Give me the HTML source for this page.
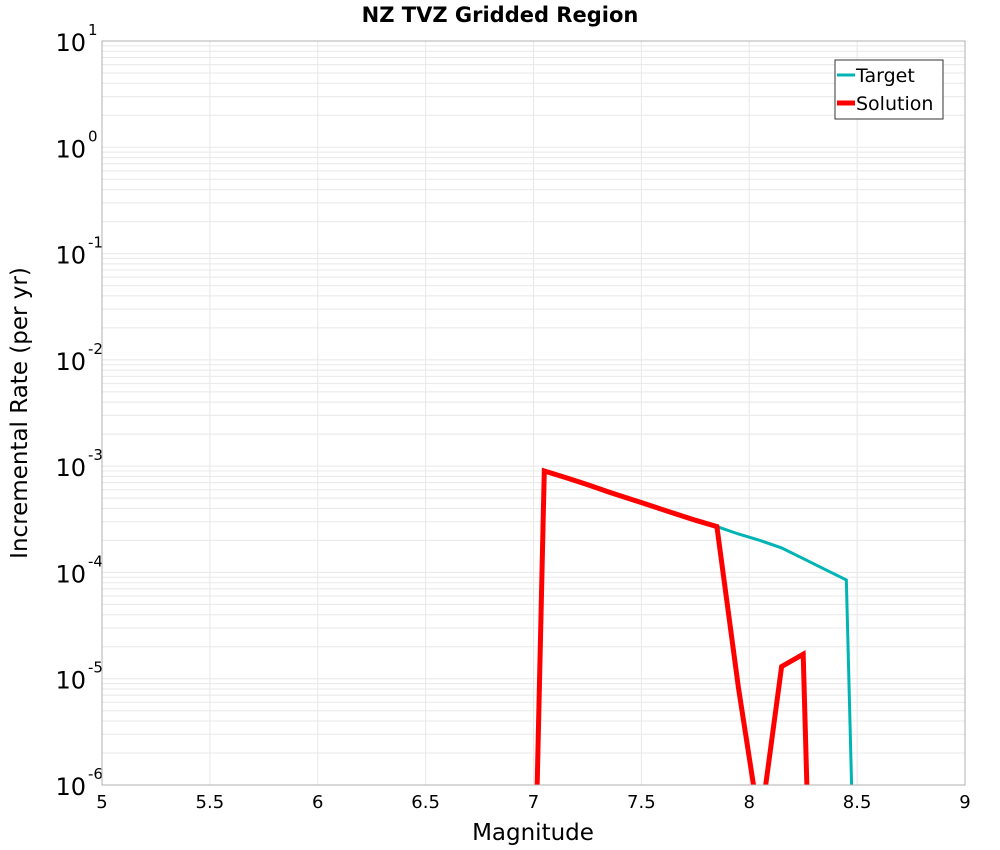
<!DOCTYPE html>
<html><head><meta charset="utf-8"><style>
html,body{margin:0;padding:0;background:#fff;overflow:hidden;width:1000px;height:850px;}
svg{display:block;font-family:"DejaVu Sans","Liberation Sans",sans-serif;}
</style></head><body>
<svg id="chart" width="1000" height="850" xmlns="http://www.w3.org/2000/svg">
<text x="500" y="22" text-anchor="middle" font-size="21" font-weight="bold">NZ TVZ Gridded Region</text>
<g id="grid"></g>
<g id="axes"></g>
<defs><clipPath id="clip"><rect x="102" y="41" width="863" height="744"/></clipPath></defs>
<g id="series" clip-path="url(#clip)"></g>
<rect x="102" y="41" width="863" height="744" fill="none" stroke="#b0b0b0" stroke-width="1"/>
<text x="533" y="840" text-anchor="middle" font-size="23">Magnitude</text>
<text transform="translate(27,413) rotate(-90)" text-anchor="middle" font-size="23">Incremental Rate (per yr)</text>
<g>
<rect x="835" y="60" width="108" height="59" fill="#fff" stroke="#333" stroke-width="1"/>
<line x1="837" y1="75" x2="855" y2="75" stroke="#00b4b4" stroke-width="3"/>
<text x="856" y="82" font-size="19">Target</text>
<line x1="837" y1="103" x2="855" y2="103" stroke="#ff0000" stroke-width="5"/>
<text x="856" y="110" font-size="19">Solution</text>
</g>
</svg>
<script>
const xTicks=[5,5.5,6,6.5,7,7.5,8,8.5,9];
const yExps=[-6,-5,-4,-3,-2,-1,0,1];
const targetMags=[6.95,7.05,7.15,7.25,7.35,7.45,7.55,7.65,7.75,7.85,7.95,8.05,8.15,8.25,8.35,8.45,8.55];
const targetRates=[1e-12,9.0e-4,7.8e-4,6.7e-4,5.7e-4,4.9e-4,4.2e-4,3.6e-4,3.1e-4,2.7e-4,2.3e-4,2.0e-4,1.7e-4,1.35e-4,1.07e-4,8.5e-5,1e-12];
const solMags=[6.95,7.05,7.15,7.25,7.35,7.45,7.55,7.65,7.75,7.85,7.95,8.05,8.15,8.25,8.35];
const solRates=[1e-12,9.0e-4,7.8e-4,6.7e-4,5.7e-4,4.9e-4,4.2e-4,3.6e-4,3.1e-4,2.7e-4,8.2e-6,4e-7,1.3e-5,1.7e-5,1e-12];
const X0=102,X1=965,Y0=785,Y1=41;
const xs=m=>X0+(m-5)/4*(X1-X0);
const ys=v=>Y0-(Math.log10(v)+6)/7*(Y0-Y1);
const NS="http://www.w3.org/2000/svg";
const grid=document.getElementById('grid'),axes=document.getElementById('axes'),series=document.getElementById('series');
function mk(t,a,p){const e=document.createElementNS(NS,t);for(const k in a)e.setAttribute(k,a[k]);p.appendChild(e);return e;}
for(let d=-6;d<1;d++){for(let k=1;k<10;k++){const y=ys(k*Math.pow(10,d));
const l=mk('line',{x1:X0,x2:X1,y1:y,y2:y,stroke:'#e8e8e8','stroke-width':1},grid);

}}
xTicks.forEach(t=>{const x=xs(t);
const l=mk('line',{x1:x,x2:x,y1:Y1,y2:Y0,stroke:'#e8e8e8','stroke-width':1},grid);


const tx=mk('text',{x:x,y:808,'text-anchor':'middle','font-size':18},axes);tx.textContent=String(t);

});
yExps.forEach(e=>{const y=ys(Math.pow(10,e));
const tx=mk('text',{x:86,y:y+10,'text-anchor':'end','font-size':24},axes);tx.textContent='10';


const sp=mk('text',{x:88,y:y-6,'font-size':15},axes);sp.textContent=String(e);

});
function pl(ms,rs,c,w,n){const pts=ms.map((m,i)=>xs(m)+','+ys(rs[i])).join(' ');
const p=mk('polyline',{points:pts,fill:'none',stroke:c,'stroke-width':w,'stroke-linejoin':'miter'},series);

}
pl(targetMags,targetRates,'#00b4b4',3,'target-line');
pl(solMags,solRates,'#ff0000',5,'solution-line');
</script>
</body></html>
